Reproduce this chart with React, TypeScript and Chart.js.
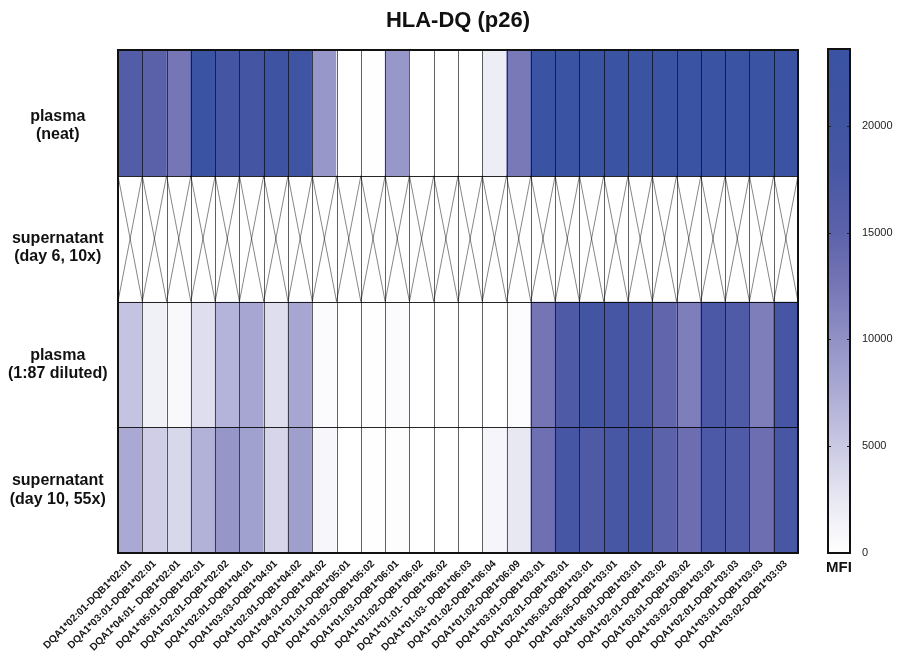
import React, { useEffect, useRef } from 'react';
import { Chart, registerables } from 'chart.js';

Chart.register(...registerables);

const alleles = [
  'DQA1*02:01-DQB1*02:01', 'DQA1*03:01-DQB1*02:01', 'DQA1*04:01- DQB1*02:01', 'DQA1*05:01-DQB1*02:01',
  'DQA1*02:01-DQB1*02:02', 'DQA1*02:01-DQB1*04:01', 'DQA1*03:03-DQB1*04:01', 'DQA1*02:01-DQB1*04:02',
  'DQA1*04:01-DQB1*04:02', 'DQA1*01:01-DQB1*05:01', 'DQA1*01:02-DQB1*05:02', 'DQA1*01:03-DQB1*06:01',
  'DQA1*01:02-DQB1*06:02', 'DQA1*01:01- DQB1*06:02', 'DQA1*01:03- DQB1*06:03', 'DQA1*01:02-DQB1*06:04',
  'DQA1*01:02-DQB1*06:09', 'DQA1*03:01-DQB1*03:01', 'DQA1*02:01-DQB1*03:01', 'DQA1*05:03-DQB1*03:01',
  'DQA1*05:05-DQB1*03:01', 'DQA1*06:01-DQB1*03:01', 'DQA1*02:01-DQB1*03:02', 'DQA1*03:01-DQB1*03:02',
  'DQA1*03:02-DQB1*03:02', 'DQA1*02:01-DQB1*03:03', 'DQA1*03:01-DQB1*03:03', 'DQA1*03:02-DQB1*03:03',
];

const samples = [
  ['plasma', '(neat)'],
  ['supernatant', '(day 6, 10x)'],
  ['plasma', '(1:87 diluted)'],
  ['supernatant', '(day 10, 55x)'],
];

const plasmaNeat = [16300, 15300, 12500, 23000, 19000, 19000, 21000, 20500, 9400, 0, 150, 9400, 0, 0,
  0, 2000, 12200, 23000, 23100, 23000, 22900, 23000, 23100, 23000, 22900, 23000, 23100, 23000];
const supernatantDay6: (number | null)[] = [null, null, null, null, null, null, null, null, null, null, null, null, null, null,
  null, null, null, null, null, null, null, null, null, null, null, null, null, null];
const plasmaDiluted = [5500, 1600, 700, 3300, 6800, 8000, 3300, 8000, 450, 0, 100, 400, 0, 0,
  0, 0, 300, 12600, 17000, 19500, 18500, 17500, 14500, 11800, 17500, 16800, 11800, 18500];
const supernatantDay10 = [7700, 4600, 3800, 7000, 9500, 8500, 4000, 8700, 900, 0, 100, 200, 0, 0,
  0, 1000, 2500, 13300, 18500, 17000, 18000, 19000, 15000, 13500, 17200, 16800, 13500, 18000];

const rows: (number | null)[][] = [plasmaNeat, supernatantDay6, plasmaDiluted, supernatantDay10];

// where each row label sits on the row axis (row index units)
const sampleLabelPositions = [0.6, 1.57, 2.5, 3.5];

const mfiMax = 23600;
const colorbarTicks = [0, 5000, 10000, 15000, 20000];

// colormap: [value, r, g, b]
const colorStops: [number, number, number, number][] = [
  [0, 255, 255, 255],
  [2500, 232, 232, 243],
  [5000, 202, 201, 228],
  [7500, 172, 171, 213],
  [10000, 145, 145, 198],
  [12500, 118, 118, 182],
  [15000, 92, 98, 170],
  [17500, 74, 88, 165],
  [20000, 64, 84, 162],
  [23600, 57, 83, 162],
];

function colorFor(v: number | null): string {
  if (v == null) return '#ffffff';
  const val = Math.max(0, Math.min(mfiMax, v));
  for (let i = 1; i < colorStops.length; i++) {
    const [v1, r1, g1, b1] = colorStops[i];
    const [v0, r0, g0, b0] = colorStops[i - 1];
    if (val <= v1) {
      const t = (val - v0) / (v1 - v0);
      return `rgb(${Math.round(r0 + (r1 - r0) * t)},${Math.round(g0 + (g1 - g0) * t)},${Math.round(b0 + (b1 - b0) * t)})`;
    }
  }
  const l = colorStops[colorStops.length - 1];
  return `rgb(${l[1]},${l[2]},${l[3]})`;
}

const FONT = '"Liberation Sans", Arial, Helvetica, sans-serif';

const heatLines = {
  id: 'heatLines',
  afterDatasetsDraw(chart: any) {
    const { ctx, chartArea: a, scales } = chart;
    const x = scales.x;
    const y = scales.y;
    const n = alleles.length;
    const cw = x.getPixelForValue(1) - x.getPixelForValue(0);
    ctx.save();
    ctx.strokeStyle = 'rgba(0,0,0,0.6)';
    ctx.lineWidth = 0.8;
    rows.forEach((vals, r) => {
      const top = y.getPixelForValue(r);
      const bottom = y.getPixelForValue(r + 1);
      vals.forEach((v, i) => {
        if (v != null) return;
        const c = x.getPixelForValue(i);
        const l = c - cw / 2;
        const rt = c + cw / 2;
        ctx.beginPath();
        ctx.moveTo(l, top);
        ctx.lineTo(rt, bottom);
        ctx.moveTo(rt, top);
        ctx.lineTo(l, bottom);
        ctx.stroke();
      });
    });
    ctx.strokeStyle = 'rgba(0,0,0,0.62)';
    ctx.lineWidth = 1;
    for (let i = 1; i < n; i++) {
      const px = Math.round(x.getPixelForValue(i) - cw / 2) + 0.5;
      ctx.beginPath();
      ctx.moveTo(px, a.top);
      ctx.lineTo(px, a.bottom);
      ctx.stroke();
    }
    ctx.strokeStyle = 'rgba(0,0,0,0.85)';
    for (let r = 1; r < rows.length; r++) {
      const py = Math.round(y.getPixelForValue(r)) + 0.5;
      ctx.beginPath();
      ctx.moveTo(a.left, py);
      ctx.lineTo(a.right, py);
      ctx.stroke();
    }
    ctx.strokeStyle = '#111';
    ctx.lineWidth = 2;
    ctx.strokeRect(a.left, a.top, a.right - a.left, a.bottom - a.top);
    ctx.restore();
  },
};

const barFrame = {
  id: 'barFrame',
  afterDatasetsDraw(chart: any) {
    const { ctx, chartArea: a, scales } = chart;
    const y = scales.y;
    ctx.save();
    ctx.strokeStyle = '#222';
    ctx.lineWidth = 1;
    colorbarTicks.forEach((t) => {
      if (t === 0) return;
      const py = Math.round(y.getPixelForValue(t)) + 0.5;
      ctx.beginPath();
      ctx.moveTo(a.left, py);
      ctx.lineTo(a.left + 3, py);
      ctx.moveTo(a.right - 3, py);
      ctx.lineTo(a.right, py);
      ctx.stroke();
    });
    ctx.strokeStyle = '#111';
    ctx.lineWidth = 2;
    ctx.strokeRect(a.left, a.top, a.right - a.left, a.bottom - a.top);
    ctx.restore();
  },
};

export default function App() {
  const mainRef = useRef<HTMLCanvasElement | null>(null);
  const barRef = useRef<HTMLCanvasElement | null>(null);

  useEffect(() => {
    Chart.defaults.font.family = FONT;
    const datasets = rows.map((vals, r) => ({
      label: samples[r].join(' '),
      data: vals.map(() => [r, r + 1]),
      backgroundColor: vals.map((v) => colorFor(v)),
      borderWidth: 0,
      barPercentage: 1,
      categoryPercentage: 1,
      grouped: false,
    }));

    const main = new Chart(mainRef.current as HTMLCanvasElement, {
      type: 'bar',
      data: { labels: alleles, datasets: datasets as any },
      plugins: [heatLines],
      options: {
        animation: false,
        responsive: true,
        maintainAspectRatio: false,
        layout: { padding: { left: 0, right: 12, top: 0, bottom: 0 } },
        plugins: {
          legend: { display: false },
          tooltip: { enabled: false },
          title: {
            display: true,
            text: 'HLA-DQ (p26)',
            fullSize: false,
            color: '#111',
            font: { size: 22, weight: 'bold', family: FONT, lineHeight: 1.2 },
            padding: { top: 8, bottom: 15.6 },
          },
        },
        scales: {
          x: {
            type: 'category',
            offset: true,
            grid: { display: false, drawTicks: false },
            border: { display: false },
            ticks: {
              autoSkip: false,
              maxRotation: 45,
              minRotation: 45,
              padding: 5,
              color: '#151515',
              font: { size: 10.2, weight: 'bold', family: FONT },
            },
            afterFit: (s: any) => { s.height = 107; },
          },
          y: {
            type: 'linear',
            min: 0,
            max: 4,
            reverse: true,
            grid: { display: false, drawTicks: false },
            border: { display: false },
            afterBuildTicks: (s: any) => { s.ticks = sampleLabelPositions.map((p) => ({ value: p })); },
            ticks: {
              callback: (v: any) => samples[Math.floor(Number(v))],
              crossAlign: 'center',
              padding: 10.5,
              color: '#111',
              font: { size: 16, weight: 'bold', family: FONT, lineHeight: 1.15 },
            },
            afterFit: (s: any) => { s.width = 118; },
          },
        },
      } as any,
    });

    const bar = new Chart(barRef.current as HTMLCanvasElement, {
      type: 'bar',
      data: {
        labels: ['MFI'],
        datasets: [{
          label: 'MFI',
          data: [[0, mfiMax]] as any,
          backgroundColor: (c: any) => {
            const ch = c.chart;
            if (!ch.chartArea) return '#ffffff';
            const ys = ch.scales.y;
            const g = ch.ctx.createLinearGradient(0, ys.getPixelForValue(0), 0, ys.getPixelForValue(mfiMax));
            colorStops.forEach(([v, r, gg, b]) => g.addColorStop(v / mfiMax, `rgb(${r},${gg},${b})`));
            return g;
          },
          borderWidth: 0,
          barPercentage: 1,
          categoryPercentage: 1,
        }],
      },
      plugins: [barFrame],
      options: {
        animation: false,
        responsive: true,
        maintainAspectRatio: false,
        layout: { padding: { left: 18, right: 0, top: 49, bottom: 0 } },
        plugins: { legend: { display: false }, tooltip: { enabled: false }, title: { display: false } },
        scales: {
          x: {
            type: 'category',
            offset: true,
            grid: { display: false, drawTicks: false },
            border: { display: false },
            ticks: { maxRotation: 0, padding: 6, color: '#111', font: { size: 15, weight: 'bold', family: FONT } },
            afterFit: (s: any) => { s.height = 107; },
          },
          y: {
            type: 'linear',
            position: 'right',
            min: 0,
            max: mfiMax,
            grid: { display: false, drawTicks: false },
            border: { display: false },
            afterBuildTicks: (s: any) => { s.ticks = colorbarTicks.map((v) => ({ value: v })); },
            ticks: { padding: 12, color: '#222', font: { size: 11, family: FONT }, callback: (v: any) => String(v) },
            afterFit: (s: any) => { s.width = 51; },
          },
        },
      } as any,
    });

    return () => {
      main.destroy();
      bar.destroy();
    };
  }, []);

  return (
    <div style={{ position: 'fixed', left: 0, top: 0, width: 901, height: 660, background: '#fff' }}>
      <div style={{ position: 'absolute', left: 0, top: 0, width: 810, height: 660 }}>
        <canvas ref={mainRef} />
      </div>
      <div style={{ position: 'absolute', left: 810, top: 0, width: 91, height: 660 }}>
        <canvas ref={barRef} />
      </div>
    </div>
  );
}
